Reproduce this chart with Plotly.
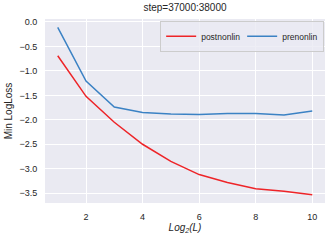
import plotly.graph_objects as go

x_vals = [1, 2, 3, 4, 5, 6, 7, 8, 9, 10]
postnonlin = [-0.69, -1.52, -2.05, -2.50, -2.85, -3.12, -3.28, -3.41, -3.46, -3.53]
prenonlin = [-0.11, -1.21, -1.74, -1.85, -1.88, -1.89, -1.87, -1.87, -1.90, -1.82]
x_ticks = [2, 4, 6, 8, 10]
y_ticks = [0.0, -0.5, -1.0, -1.5, -2.0, -2.5, -3.0, -3.5]

allv = postnonlin + prenonlin
ymin, ymax = min(allv), max(allv)
ypad = 0.05 * (ymax - ymin)
xpad = 0.05 * (max(x_vals) - min(x_vals))

font = "Liberation Sans, Arial, sans-serif"
fig = go.Figure()
fig.add_trace(go.Scatter(x=x_vals, y=postnonlin, mode="lines", name="postnonlin",
                         line=dict(color="#ee2428", width=1.5)))
fig.add_trace(go.Scatter(x=x_vals, y=prenonlin, mode="lines", name="prenonlin",
                         line=dict(color="#3b82c4", width=1.5)))

fig.update_layout(
    width=332, height=241,
    margin=dict(l=45, r=7, t=19, b=38),
    paper_bgcolor="white", plot_bgcolor="#EAEAF2",
    font=dict(family=font, size=9, color="#262626"),
    title=dict(text="step=37000:38000", x=0.5, xref="paper", xanchor="center",
               y=1, yref="container", yanchor="top", pad=dict(t=4),
               font=dict(size=10, color="#262626")),
    showlegend=True,
    legend=dict(orientation="h", x=0.997, xanchor="right", y=0.99, yanchor="top",
                bgcolor="rgba(234,234,242,0.8)", bordercolor="#cccccc", borderwidth=1,
                font=dict(size=8.5, color="#262626"), itemwidth=30,
                entrywidth=36, tracegroupgap=0),
    xaxis=dict(range=[min(x_vals) - xpad, max(x_vals) + xpad], tickvals=x_ticks,
               showgrid=True, gridcolor="white", gridwidth=1, zeroline=False,
               showline=False, ticks="outside", ticklen=5, tickcolor="rgba(0,0,0,0)",
               title=dict(text="<i>Log<sub>2</sub>(L)</i>", standoff=2,
                          font=dict(size=10, color="#262626"))),
    yaxis=dict(range=[ymin - ypad, ymax + ypad], tickvals=y_ticks, tickformat=".1f",
               showgrid=True, gridcolor="white", gridwidth=1, zeroline=False,
               showline=False, ticks="outside", ticklen=5, tickcolor="rgba(0,0,0,0)",
               title=dict(text="Min LogLoss", standoff=4,
                          font=dict(size=10, color="#262626"))),
)
fig.write_html("out.html", config={"displayModeBar": False},
               post_script="document.body.style.margin='0';")
